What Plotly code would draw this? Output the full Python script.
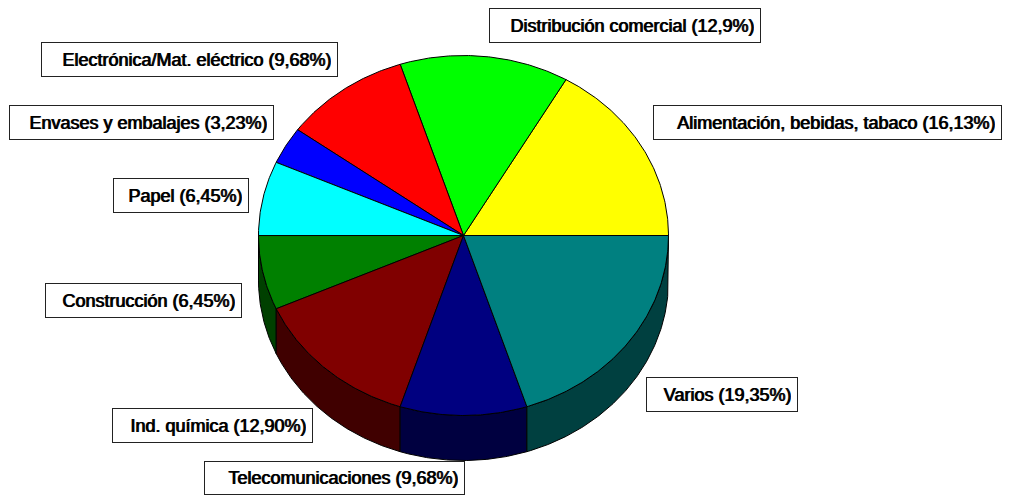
import numpy as np
import plotly.graph_objects as go

categories = ["Alimentación, bebidas, tabaco", "Distribución comercial", "Electrónica/Mat. eléctrico",
              "Envases y embalajes", "Papel", "Construcción", "Ind. química", "Telecomunicaciones", "Varios"]
shares = [16.13, 12.90, 9.68, 3.23, 6.45, 6.45, 12.90, 9.68, 19.35]
share_labels = ["16,13%", "12,9%", "9,68%", "3,23%", "6,45%", "6,45%", "12,90%", "9,68%", "19,35%"]
top_colors = ["#ffff00", "#00ff00", "#ff0000", "#0000ff", "#00ffff", "#008000", "#800000", "#000080", "#008080"]
side_colors = ["#808000", "#008000", "#800000", "#000080", "#008080", "#004000", "#400000", "#000040", "#004040"]

# label box layout: left, top, right, bottom in the 1017x495 canvas
boxes = [(654, 106, 1001, 139), (490, 9, 760, 42), (42, 43, 337, 76), (10, 106, 273, 139), (114, 179, 248, 212),
         (46, 284, 241, 317), (113, 409, 312, 442), (205, 462, 464, 494), (647, 378, 797, 411)]

W, H = 1017, 495
PAGE_OFFSET = 8  # the page body margin
CX, CY, RX, RY, DEPTH = 463.5, 235.5, 205, 180, 45
PAD = 6


def arc(a0, a1):
    t = np.linspace(a0, a1, max(int(abs(a1 - a0) * 2), 2))
    return CX + RX * np.cos(np.radians(t)), CY - RY * np.sin(np.radians(t))


fig = go.Figure()
edges = np.concatenate([[0], np.cumsum(shares) / np.sum(shares) * 360])

# rim: only the part of each slice facing the viewer (180-360 degrees)
for i in range(len(shares)):
    a0, a1 = max(edges[i], 180), min(edges[i + 1], 360)
    if a1 <= a0:
        continue
    x, y = arc(a0, a1)
    fig.add_trace(go.Scatter(
        x=np.concatenate([x, x[::-1], x[:1]]),
        y=np.concatenate([y, y[::-1] + DEPTH, y[:1]]),
        mode="lines", fill="toself", fillcolor=side_colors[i],
        line=dict(color="black", width=1), hoverinfo="skip", showlegend=False))

# top face
for i in range(len(shares)):
    x, y = arc(edges[i], edges[i + 1])
    fig.add_trace(go.Scatter(
        x=np.concatenate([[CX], x, [CX]]),
        y=np.concatenate([[CY], y, [CY]]),
        mode="lines", fill="toself", fillcolor=top_colors[i],
        line=dict(color="black", width=1), name=categories[i], hoverinfo="name", showlegend=False))

annotations = []
for cat, lab, (l, t, r, b) in zip(categories, share_labels, boxes):
    annotations.append(dict(
        x=(l + r) / 2, y=(t + b) / 2, xref="x", yref="y", xanchor="center", yanchor="middle",
        text=f"{cat} ({lab})", showarrow=False, width=r - l - 2 * PAD, height=b - t - 2 * PAD,
        align="right", valign="middle",
        bgcolor="white", bordercolor="#222222", borderwidth=1, borderpad=PAD,
        font=dict(family="Liberation Sans", size=18, color="black", shadow="1px 0 0 black")))

fig.update_layout(
    width=W, height=H, margin=dict(l=0, r=0, t=0, b=0),
    paper_bgcolor="white", plot_bgcolor="white", annotations=annotations,
    xaxis=dict(range=[PAGE_OFFSET, W + PAGE_OFFSET], visible=False, fixedrange=True),
    yaxis=dict(range=[H + PAGE_OFFSET, PAGE_OFFSET], visible=False, fixedrange=True),
)
fig.write_html("out.html", config=dict(displayModeBar=False))
